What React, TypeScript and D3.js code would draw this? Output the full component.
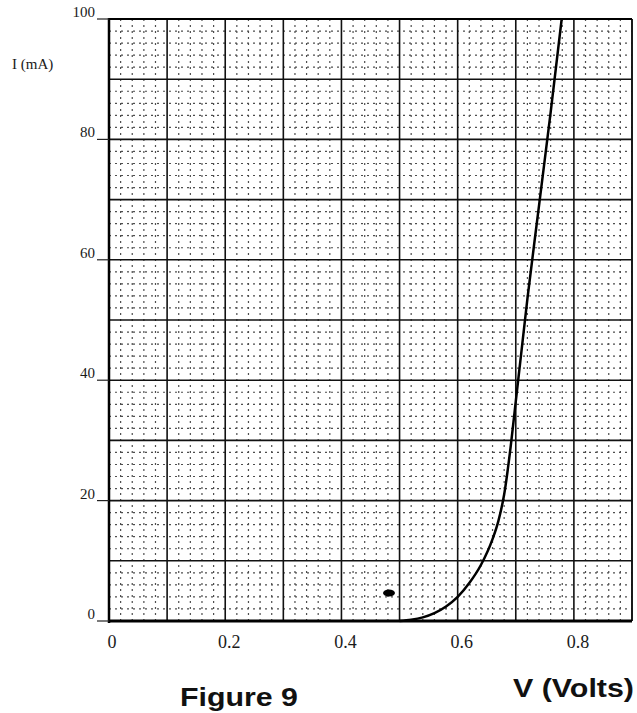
import React from "react";
import * as d3 from "d3";

const voltage = [0.5, 0.52, 0.54, 0.56, 0.58, 0.6, 0.62, 0.64, 0.66, 0.67, 0.68, 0.69, 0.7, 0.71, 0.72, 0.74, 0.76, 0.779];
const current = [0, 0.2, 0.6, 1.3, 2.4, 4.0, 6.3, 9.3, 13.6, 16.6, 21, 28, 36.5, 45, 53.5, 69, 84.5, 100];
const xTickValues = [0, 0.2, 0.4, 0.6, 0.8];
const xTickLabels = ["0", "0.2", "0.4", "0.6", "0.8"];
const yTickValues = [0, 20, 40, 60, 80, 100];
const yTickLabels = ["0", "20", "40", "60", "80", "100"];
const xMajor = d3.range(0, 10).map((i) => i / 10);
const yMajor = d3.range(0, 11).map((i) => i * 10);
const xMinor = d3.range(0, 46).map((i) => i * 0.02).filter((_, i) => i % 5 !== 0);
const yMinor = d3.range(0, 51).map((i) => i * 2).filter((_, i) => i % 5 !== 0);

export default function App() {
  const x = d3.scaleLinear().domain([0, 0.9]).range([109, 632]);
  const y = d3.scaleLinear().domain([0, 100]).range([621, 19]);
  const pts = voltage.map((v, i) => [v, current[i]] as [number, number]);
  const line = d3
    .line<[number, number]>()
    .x((d) => x(d[0]))
    .y((d) => y(d[1]))
    .curve(d3.curveMonotoneX);
  const pre: [number, number][] = [[0, 0], [0.5, 0]];

  return (
    <svg
      width={637}
      height={713}
      style={{ position: "absolute", left: 0, top: 0, background: "#fff" }}
    >
      <rect x={0} y={0} width={637} height={713} fill="#fff" />
      {/* minor grid */}
      <g stroke="#222" strokeWidth={1.2} strokeDasharray="2,4" opacity={0.8}>
        {xMinor.map((v) => (
          <line key={"xm" + v} x1={x(v)} x2={x(v)} y1={y(100)} y2={y(0)} />
        ))}
        {yMinor.map((v) => (
          <line key={"ym" + v} x1={x(0)} x2={x(0.9)} y1={y(v)} y2={y(v)} />
        ))}
      </g>
      {/* major grid */}
      <g stroke="#111" strokeWidth={1.6}>
        {xMajor.map((v) => (
          <line key={"xM" + v} x1={x(v)} x2={x(v)} y1={y(100)} y2={y(0)} />
        ))}
        <line x1={x(0.9)} x2={x(0.9)} y1={y(100)} y2={y(0)} />
        {yMajor.map((v) => (
          <line key={"yM" + v} x1={x(0)} x2={x(0.9)} y1={y(v)} y2={y(v)} />
        ))}
      </g>
      {/* axes */}
      <g stroke="#000">
        <line x1={x(0)} x2={x(0)} y1={y(100) - 1} y2={y(0) + 2} strokeWidth={2.5} />
        <line x1={x(0) - 1} x2={x(0.9)} y1={y(0)} y2={y(0)} strokeWidth={3} />
        <line x1={x(0)} x2={x(0.9)} y1={y(100)} y2={y(100)} strokeWidth={2} />
      </g>
      {/* y ticks */}
      <g fontFamily="'Liberation Serif', 'DejaVu Serif', serif" fontSize={15} fill="#1a1a1a">
        {yTickValues.map((v, i) => (
          <g key={"yt" + v}>
            <line x1={97} x2={x(0)} y1={y(v)} y2={y(v)} stroke="#222" strokeWidth={1.2} />
            <text x={95} y={y(v) - 2} textAnchor="end">
              {yTickLabels[i]}
            </text>
          </g>
        ))}
        <text x={12} y={69}>I (mA)</text>
      </g>
      {/* x ticks */}
      <g fontFamily="'Liberation Serif', 'DejaVu Serif', serif" fontSize={18} fill="#1a1a1a">
        {xTickValues.map((v, i) => (
          <text key={"xt" + v} x={x(v) + (i === 0 ? 3 : 4)} y={648} textAnchor="middle">
            {xTickLabels[i]}
          </text>
        ))}
      </g>
      {/* curve */}
      <path d={line(pre) || ""} fill="none" stroke="#000" strokeWidth={2} />
      <path d={line(pts) || ""} fill="none" stroke="#000" strokeWidth={2.5} />
      <ellipse cx={389} cy={593} rx={6} ry={3.5} fill="#000" />
      {/* titles */}
      <text
        x={180}
        y={706}
        fontFamily="'Liberation Sans', Arial, sans-serif"
        fontWeight="bold"
        fontSize={25}
        textLength={118}
        lengthAdjust="spacingAndGlyphs"
        fill="#111"
      >
        Figure 9
      </text>
      <text
        x={513}
        y={697}
        fontFamily="'Liberation Sans', Arial, sans-serif"
        fontWeight="bold"
        fontSize={26}
        textLength={121}
        lengthAdjust="spacingAndGlyphs"
        fill="#111"
      >
        V (Volts)
      </text>
    </svg>
  );
}
